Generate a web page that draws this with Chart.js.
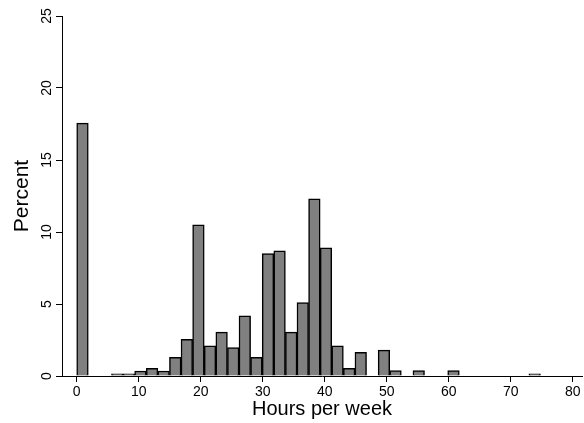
<!DOCTYPE html>
<html><head><meta charset="utf-8">
<script src="https://cdn.jsdelivr.net/npm/chart.js@4"></script>
<style>html,body{margin:0;padding:0;background:#fff}#w{width:584px;height:423px}</style>
</head><body><div id="w"><canvas id="c"></canvas></div>
<script>
const binWidth = 1.87;
const percents = [17.56,0,0,0.15,0.15,0.35,0.53,0.35,1.3,2.55,10.5,2.1,3.05,1.97,4.18,1.3,8.5,8.7,3.05,5.1,12.3,8.9,2.1,0.53,1.65,0,1.8,0.37,0,0.37,0,0,0.37,0,0,0,0,0,0,0.15];
const xTicks = [0,10,20,30,40,50,60,70,80];
const yTicks = [0,5,10,15,20,25];
const data = percents.map((v,i)=>({x:binWidth*(i+0.5), y: v>0?v:null}));
const yLabels = {
  id:'yl',
  afterDraw(ch){
    const c=ch.ctx, s=ch.scales.y;
    c.save(); c.fillStyle='#000'; c.font='14px "Liberation Sans", Arial'; c.textAlign='center'; c.textBaseline='bottom';
    yTicks.forEach(t=>{const y=s.getPixelForValue(t); c.save(); c.translate(s.right-8,y); c.rotate(-Math.PI/2); c.fillText(String(t),0,0); c.restore();});
    c.restore();
  }
};
new Chart(document.getElementById('c'),{
  type:'bar',
  data:{datasets:[{data, backgroundColor:'#808080', borderColor:'#000', borderWidth:1.5, barPercentage:1, categoryPercentage:1, grouped:false}]},
  options:{
    responsive:true, maintainAspectRatio:false, animation:false,
    layout:{padding:{top:16,right:2,left:0,bottom:0}},
    plugins:{legend:{display:false},tooltip:{enabled:false}},
    scales:{
      x:{type:'linear', min:-2.37, max:81.5, offset:false,
        afterBuildTicks(s){s.ticks=xTicks.map(v=>({value:v}));},
        grid:{offset:false, drawOnChartArea:false, tickLength:6, color:'#000'}, border:{color:'#000',width:1},
        ticks:{color:'#000', font:{family:'"Liberation Sans", Arial', size:14}, padding:2, maxRotation:0},
        title:{display:true, text:'Hours per week', color:'#000', font:{family:'"Liberation Sans", Arial', size:20}, padding:{top:0,bottom:2}},
        afterFit(s){s.height=47;}
      },
      y:{min:0,max:25,
        afterBuildTicks(s){s.ticks=yTicks.map(v=>({value:v}));},
        grid:{offset:false, drawOnChartArea:false, tickLength:6, color:'#000'}, border:{color:'#000',width:1},
        ticks:{display:false},
        title:{display:true, text:'Percent', color:'#000', font:{family:'"Liberation Sans", Arial', size:21}, padding:{top:10,bottom:8}},
        afterFit(s){s.width=62;}
      }
    }
  },
  plugins:[yLabels]
});
</script></body></html>
